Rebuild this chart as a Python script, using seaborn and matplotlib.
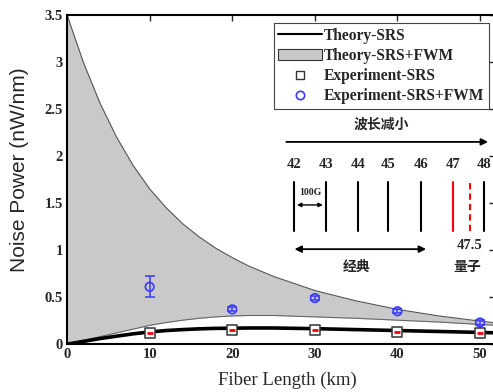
import numpy as np
import pandas as pd
import matplotlib
matplotlib.use("Agg")
import matplotlib.pyplot as plt
import seaborn as sns
from matplotlib.patches import Patch
from matplotlib.lines import Line2D

# ---------------- data ----------------
x_theory = [0, 2, 4, 6, 8, 10, 12, 14, 16, 18, 20, 22, 25, 30, 35, 40, 45, 50, 52]
band_upper = [3.5, 2.99, 2.56, 2.20, 1.90, 1.65, 1.45, 1.28, 1.14, 1.02, 0.92, 0.83,
              0.72, 0.57, 0.46, 0.37, 0.30, 0.245, 0.225]
band_lower = [0.0, 0.04, 0.08, 0.12, 0.16, 0.2, 0.23, 0.255, 0.275, 0.29, 0.30, 0.305,
              0.305, 0.29, 0.275, 0.255, 0.235, 0.21, 0.20]
theory_srs = [0.0, 0.03, 0.06, 0.085, 0.11, 0.13, 0.145, 0.155, 0.163, 0.168, 0.17, 0.172,
              0.172, 0.165, 0.155, 0.145, 0.135, 0.125, 0.12]

x_exp = [10, 20, 30, 40, 50]
exp_srs = [0.12, 0.15, 0.15, 0.13, 0.115]
exp_fwm = [0.61, 0.37, 0.49, 0.35, 0.23]
exp_fwm_err = [0.11, 0.02, 0.02, 0.02, 0.03]

channel_labels = ["42", "43", "44", "45", "46", "47", "48"]

xticks = [0, 10, 20, 30, 40, 50]
yticks = [0, 0.5, 1, 1.5, 2, 2.5, 3, 3.5]
ytick_labels = ["0", "0.5", "1", "1.5", "2", "2.5", "3", "3.5"]

# ---------------- style ----------------
sns.set_style("white")
plt.rcParams['font.family'] = ['Liberation Serif', 'Noto Sans CJK SC', 'DejaVu Sans']

fig = plt.figure(figsize=(4.93, 3.92), dpi=100)
ax = fig.add_axes([0.136, 0.122, 0.868, 0.840])

df_t = pd.DataFrame({"x": x_theory, "srs": theory_srs, "up": band_upper, "lo": band_lower})
df_e = pd.DataFrame({"x": x_exp, "srs": exp_srs, "fwm": exp_fwm, "err": exp_fwm_err})

ax.fill_between(df_t["x"], df_t["lo"], df_t["up"], color="#c9c9c9", lw=0, zorder=1)
sns.lineplot(data=df_t, x="x", y="up", ax=ax, color="#555555", lw=0.8, zorder=2,
             legend=False)
sns.lineplot(data=df_t, x="x", y="lo", ax=ax, color="#666666", lw=0.8, zorder=2,
             legend=False)
sns.lineplot(data=df_t, x="x", y="srs", ax=ax, color="black", lw=2.6, zorder=3,
             legend=False)

ax.errorbar(df_e["x"], df_e["fwm"], yerr=df_e["err"], fmt="none", ecolor="#3a3aff",
            elinewidth=1.1, capsize=3.5, capthick=1.1, zorder=4)
sns.scatterplot(data=df_e, x="x", y="fwm", ax=ax, marker="o", s=38,
                facecolor="none", edgecolor="#3a3aff", linewidth=1.2, zorder=5)
sns.scatterplot(data=df_e, x="x", y="srs", ax=ax, marker="s", s=42,
                facecolor="white", edgecolor="#333333", linewidth=1.1, zorder=5)
sns.scatterplot(data=df_e, x="x", y="srs", ax=ax, marker="_", s=22,
                color="red", linewidth=2.0, zorder=6)

ax.set_xlim(0, 51.8)
ax.set_ylim(0, 3.5)
ax.set_xticks(xticks)
ax.set_xticklabels([str(t) for t in xticks], fontsize=10.5, fontweight="bold")
ax.set_yticks(yticks)
ax.set_yticklabels(ytick_labels, fontsize=10.5, fontweight="bold")
ax.tick_params(direction="in", length=4, width=1.0, top=True, right=True, pad=3)
for s in ax.spines.values():
    s.set_color("black")
    s.set_linewidth(1.5)

ax.set_xlabel("Fiber Length (km)", fontsize=13.5, labelpad=8, family="Liberation Serif")
ax.xaxis.set_label_coords(0.514, -0.085)
ax.set_ylabel("Noise Power (nW/nm)", fontsize=15, family="Liberation Sans")
ax.yaxis.set_label_coords(-0.088, 0.53)

# ---------------- legend ----------------
handles = [
    Line2D([], [], color="black", lw=1.5),
    Patch(facecolor="#c9c9c9", edgecolor="#333333", lw=0.8),
    Line2D([], [], marker="s", ls="none", mfc="none", mec="#333333", ms=6, mew=1.0),
    Line2D([], [], marker="o", ls="none", mfc="none", mec="#3a3aff", ms=6, mew=1.2),
]
labels = ["Theory-SRS", "Theory-SRS+FWM", "Experiment-SRS", "Experiment-SRS+FWM"]
leg = ax.legend(handles, labels, loc="upper right", bbox_to_anchor=(0.985, 0.975),
                prop={"family": "Liberation Serif", "weight": "bold", "size": 11.2},
                frameon=True, fancybox=False, edgecolor="#444444", framealpha=1,
                handlelength=2.8, handletextpad=0.1, borderpad=0.3, labelspacing=0.27,
                borderaxespad=0)
leg.get_frame().set_linewidth(0.8)

# ---------------- inset annotation ----------------
cjk = ['Noto Sans CJK SC', 'DejaVu Sans']
ax.annotate("", xy=(51.3, 2.15), xytext=(26.2, 2.15),
            arrowprops=dict(arrowstyle="-|>", color="black", lw=1.3, mutation_scale=10))
ax.text(38.0, 2.33, "波长减小", family=cjk, fontsize=10, fontweight="bold",
        ha="center", va="center")

ch_x = [27.5, 31.3, 35.2, 38.9, 42.8, 46.7, 50.5]
for xx, lab in zip(ch_x, channel_labels):
    ax.text(xx, 1.91, lab, fontsize=10.5, fontweight="bold", ha="center", va="center")
for i, xx in enumerate(ch_x):
    col = "red" if i == 5 else "black"
    ax.plot([xx, xx], [1.20, 1.72], color=col, lw=1.5)
ax.plot([48.8, 48.8], [1.20, 1.72], color="red", lw=1.5, ls=(0, (3, 2)))
ax.text(48.7, 1.05, "47.5", fontsize=10.5, fontweight="bold", ha="center", va="center")
ax.text(29.4, 1.61, "100G", fontsize=7, fontweight="bold", ha="center", va="center")
ax.annotate("", xy=(27.5, 1.48), xytext=(31.3, 1.48),
            arrowprops=dict(arrowstyle="<|-|>", color="black", lw=1.0, mutation_scale=6))
ax.annotate("", xy=(27.2, 1.01), xytext=(43.8, 1.01),
            arrowprops=dict(arrowstyle="<|-|>", color="black", lw=1.3, mutation_scale=10))
ax.text(35.0, 0.82, "经典", family=cjk, fontsize=10, fontweight="bold",
        ha="center", va="center")
ax.text(48.5, 0.82, "量子", family=cjk, fontsize=10, fontweight="bold",
        ha="center", va="center")

fig.savefig("out.png", dpi=100)
